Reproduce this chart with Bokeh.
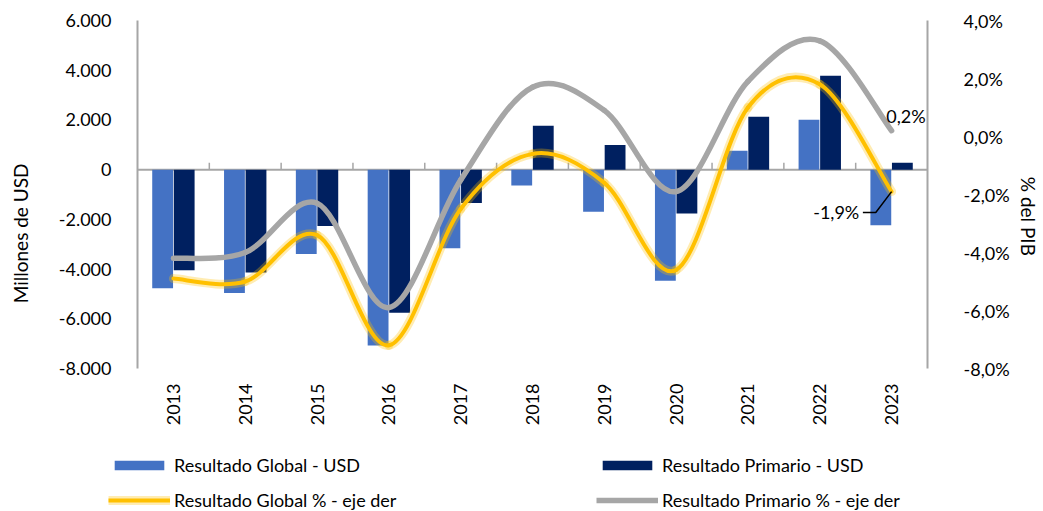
import math
from bokeh.plotting import figure
from bokeh.layouts import column
from bokeh.models import (Range1d, LinearAxis, FixedTicker, ColumnDataSource, Span,
                          Legend, LegendItem)
from bokeh.transform import dodge
from bokeh.core.properties import value
from bokeh.embed import file_html
from bokeh.resources import INLINE

years = ["2013", "2014", "2015", "2016", "2017", "2018", "2019", "2020", "2021", "2022", "2023"]
global_usd = [-4770, -4960, -3390, -7070, -3160, -640, -1690, -4470, 760, 2010, -2240]
primario_usd = [-4050, -4140, -2270, -5760, -1340, 1770, 990, -1760, 2130, 3780, 280]
global_pct = [-4.9, -5.0, -3.4, -7.2, -2.5, -0.6, -1.6, -4.6, 1.0, 1.8, -1.9]
primario_pct = [-4.2, -4.0, -2.3, -5.9, -1.5, 1.7, 0.9, -1.9, 1.9, 3.3, 0.2]
left_ticks = [-8000, -6000, -4000, -2000, 0, 2000, 4000, 6000]
right_ticks = [-8, -6, -4, -2, 0, 2, 4]
labels = ["Resultado Global - USD", "Resultado Primario - USD",
          "Resultado Global % - eje der", "Resultado Primario % - eje der"]

FONT = "Lato"
FS = "18px"
BLUE = "#4472C4"
NAVY = "#002060"
YELLOW = "#FFC000"
GRAY = "#A6A6A6"
AXIS = "#A6A6A6"
NB = "\u00a0"

idx = list(range(len(years)))

p = figure(width=1043, height=443, output_backend="svg", toolbar_location=None,
           x_range=Range1d(-0.5, len(years) - 0.5), y_range=Range1d(-8000, 6000),
           min_border_left=137, min_border_top=20, min_border_right=116, min_border_bottom=75)
p.frame_width = 790
p.frame_height = 348
p.outline_line_color = None
p.grid.visible = False
p.background_fill_color = "white"
p.border_fill_color = "white"

p.extra_y_ranges = {"pct": Range1d(-8, 4)}

# zero line
p.add_layout(Span(location=0, dimension="width", line_color=AXIS, line_width=2, level="underlay"))

src = ColumnDataSource(dict(x=idx, g=global_usd, pr=primario_usd))
p.vbar(x=dodge("x", -0.15, range=p.x_range), top="g", bottom=0, width=0.29, source=src,
       fill_color=BLUE, line_color=None)
p.vbar(x=dodge("x", 0.15, range=p.x_range), top="pr", bottom=0, width=0.29, source=src,
       fill_color=NAVY, line_color=None)

# category separator ticks on zero line
bx = [i + 0.5 for i in idx[:-1]]
p.segment(x0=bx, x1=bx, y0=[0] * len(bx), y1=[280] * len(bx), line_color=AXIS, line_width=1.5)


def smooth(xs, ys):
    n = len(xs)
    d = dict(x0=[], y0=[], x1=[], y1=[], cx0=[], cy0=[], cx1=[], cy1=[])
    for i in range(n - 1):
        xm, ym = (xs[i - 1], ys[i - 1]) if i > 0 else (xs[i], ys[i])
        xp, yp = (xs[i + 2], ys[i + 2]) if i + 2 < n else (xs[i + 1], ys[i + 1])
        d["x0"].append(xs[i]); d["y0"].append(ys[i])
        d["x1"].append(xs[i + 1]); d["y1"].append(ys[i + 1])
        d["cx0"].append(xs[i] + (xs[i + 1] - xm) / 6); d["cy0"].append(ys[i] + (ys[i + 1] - ym) / 6)
        d["cx1"].append(xs[i + 1] - (xp - xs[i]) / 6); d["cy1"].append(ys[i + 1] - (yp - ys[i]) / 6)
    return ColumnDataSource(d)


BZ = dict(x0="x0", y0="y0", x1="x1", y1="y1", cx0="cx0", cy0="cy0", cx1="cx1", cy1="cy1")
p.bezier(**BZ, source=smooth(idx, primario_pct), line_color=GRAY, line_width=5.5,
         line_cap="round", y_range_name="pct")
ysrc = smooth(idx, global_pct)
p.bezier(**BZ, source=ysrc, line_color=YELLOW, line_width=9, line_alpha=0.3, line_cap="round",
         y_range_name="pct")
p.bezier(**BZ, source=ysrc, line_color=YELLOW, line_width=4, line_cap="round", y_range_name="pct")

# annotations for 2023
last = len(years) - 1
p.text(x=[last], y=[primario_pct[-1]], text=["0,2%"], x_offset=34, y_offset=-15,
       text_font=value(FONT), text_font_size=FS, text_baseline="middle", text_align="right",
       text_color="black", y_range_name="pct")
lx = [last, last - 0.22, last - 0.40]
ly = [global_pct[-1], global_pct[-1] - 0.72, global_pct[-1] - 0.72]
p.line(x=lx, y=ly, line_color="black", line_width=1.5, y_range_name="pct")
p.text(x=[lx[-1] - 0.05], y=[ly[-1]], text=["-1,9%"], text_font=value(FONT), text_font_size=FS,
       text_baseline="middle", text_align="right", text_color="black", y_range_name="pct")

# axes
xa = p.xaxis[0]
xa.ticker = FixedTicker(ticks=idx)
xa.major_label_overrides = {i: y for i, y in zip(idx, years)}
xa.major_label_orientation = math.pi / 2
xa.axis_line_color = None
xa.major_tick_line_color = None
xa.minor_tick_line_color = None
xa.major_label_standoff = 9
xa.major_label_text_font = FONT
xa.major_label_text_font_size = FS
xa.major_label_text_color = "black"

ya = p.yaxis[0]
ya.ticker = FixedTicker(ticks=left_ticks)
ya.major_label_overrides = {t: f"{t:,}".replace(",", ".") for t in left_ticks}
ya.axis_line_color = AXIS
ya.axis_line_width = 2
ya.major_tick_line_color = None
ya.minor_tick_line_color = None
ya.major_label_standoff = 20
ya.major_label_text_font = FONT
ya.major_label_text_font_size = FS
ya.major_label_text_color = "black"
ya.axis_label = "Millones de USD" + NB * 16
ya.axis_label_text_font = FONT
ya.axis_label_text_font_size = "19px"
ya.axis_label_text_font_style = "normal"
ya.axis_label_text_color = "black"
ya.axis_label_standoff = 24

ra = LinearAxis(y_range_name="pct", ticker=FixedTicker(ticks=right_ticks))
ra.major_label_overrides = {t: f"{t:.1f}".replace(".", ",") + "%" for t in right_ticks}
ra.axis_line_color = AXIS
ra.axis_line_width = 2
ra.major_tick_line_color = None
ra.minor_tick_line_color = None
ra.major_label_standoff = 30
ra.major_label_text_font = FONT
ra.major_label_text_font_size = FS
ra.major_label_text_color = "black"
ra.axis_label = NB * 9 + "% del PIB"
ra.axis_label_text_font = FONT
ra.axis_label_text_font_size = "19px"
ra.axis_label_text_font_style = "normal"
ra.axis_label_text_color = "black"
ra.axis_label_standoff = 4
p.add_layout(ra, "right")

# legend strip
q = figure(width=1043, height=68, output_backend="svg", toolbar_location=None,
           x_range=Range1d(0, 1), y_range=Range1d(0, 1),
           x_axis_location=None, y_axis_location=None,
           min_border_left=0, min_border_right=0, min_border_top=0, min_border_bottom=0)
q.frame_width = 1043
q.frame_height = 68
q.outline_line_color = None
q.grid.visible = False
q.border_fill_color = "white"
lb = q.vbar(x=[-5], top=[0], width=0.1, fill_color=BLUE, line_color=None)
lp = q.vbar(x=[-5], top=[0], width=0.1, fill_color=NAVY, line_color=None)
lyg = q.line(x=[-5, -4], y=[0, 0], line_color=YELLOW, line_width=9, line_alpha=0.3)
lyl = q.line(x=[-5, -4], y=[0, 0], line_color=YELLOW, line_width=4)
lg = q.line(x=[-5, -4], y=[0, 0], line_color=GRAY, line_width=5.5)

legend = Legend(items=[
    LegendItem(label=labels[0], renderers=[lb]),
    LegendItem(label=labels[1], renderers=[lp]),
    LegendItem(label=labels[2], renderers=[lyg, lyl]),
    LegendItem(label=labels[3], renderers=[lg]),
], orientation="horizontal", ncols=2, location=(108, 0),
    glyph_width=62, glyph_height=12, label_width=409, label_height=20, label_standoff=4,
    spacing=13, padding=0, margin=0, border_line_color=None, background_fill_alpha=0,
    label_text_font=FONT, label_text_font_size=FS, label_text_color="black")
q.add_layout(legend, "center")

open("out.html", "w").write(file_html(column(p, q, spacing=0), INLINE))
